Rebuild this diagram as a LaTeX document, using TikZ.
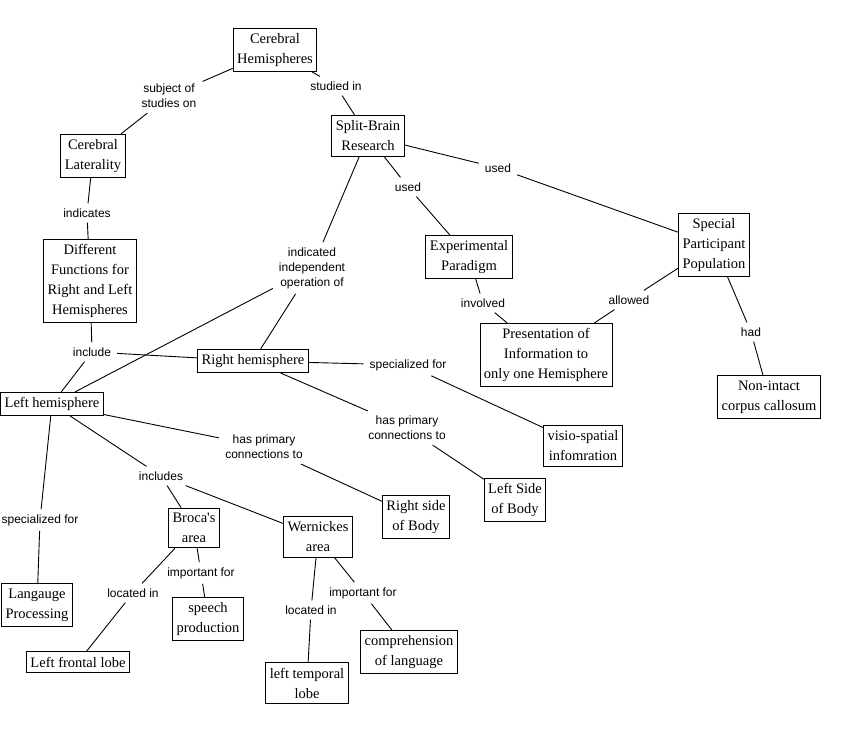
\documentclass[tikz,border=0pt]{standalone}
\usepackage{fontspec}
\setmainfont{Liberation Serif}
\newfontfamily\linkfont{Liberation Sans}

\begin{document}
\begin{tikzpicture}[x=1pt,y=-1pt,
  concept/.style={draw,line width=0.9pt,align=center,inner xsep=4pt,inner ysep=5pt,
    font=\fontsize{14.5}{20}\selectfont},
  link/.style={align=center,inner xsep=6pt,inner ysep=5pt,
    font=\linkfont\fontsize{12}{15}\selectfont},
  every edge/.style={draw,line width=0.9pt}]

\useasboundingbox (0,0) rectangle (863,744);

\node[concept] (c_hem) at (275,50) {Cerebral\\Hemispheres};
\node[concept] (c_lat) at (93,156) {Cerebral\\Laterality};
\node[concept] (c_split) at (368,136) {Split-Brain\\Research};
\node[concept] (c_diff) at (90,281) {Different\\Functions for\\Right and Left\\Hemispheres};
\node[concept] (c_exp) at (469,257) {Experimental\\Paradigm};
\node[concept] (c_spec) at (714,245) {Special\\Participant\\Population};
\node[concept] (c_pres) at (546,355) {Presentation of\\Information to\\only one Hemisphere};
\node[concept] (c_corp) at (769,397) {Non-intact\\corpus callosum};
\node[concept] (c_right) at (253,361) {Right hemisphere};
\node[concept] (c_left) at (52,404) {Left hemisphere};
\node[concept] (c_visio) at (583,446) {visio-spatial\\infomration};
\node[concept] (c_lbody) at (515,500) {Left Side\\of Body};
\node[concept] (c_rbody) at (416,517) {Right side\\of Body};
\node[concept] (c_broca) at (194,528) {Broca\textquotesingle s\\area};
\node[concept] (c_wern) at (318,537) {Wernickes\\area};
\node[concept] (c_lang) at (37,605) {Langauge\\Processing};
\node[concept] (c_front) at (78,662) {Left frontal lobe};
\node[concept] (c_speech) at (208,619) {speech\\production};
\node[concept] (c_temp) at (307,683) {left temporal\\lobe};
\node[concept] (c_compr) at (409,652) {comprehension\\of language};

\node[link] (l_subj) at (169,96) {subject of\\studies on};
\node[link] (l_stud) at (336,86) {studied in};
\node[link] (l_ind) at (87,213) {indicates};
\node[link] (l_incl) at (92,352) {include};
\node[link] (l_indep) at (312,268) {indicated\\independent\\operation of};
\node[link] (l_used_1) at (408,187) {used};
\node[link] (l_used_2) at (498,168) {used};
\node[link] (l_inv) at (483,303) {involved};
\node[link] (l_allow) at (629,300) {allowed};
\node[link] (l_had) at (751,332) {had};
\node[link] (l_spec_r) at (408,365) {specialized for};
\node[link] (l_conn_r) at (407,428) {has primary\\connections to};
\node[link] (l_conn_l) at (264,447) {has primary\\connections to};
\node[link] (l_incs) at (161,476) {includes};
\node[link] (l_spec_l) at (40,520) {specialized for};
\node[link] (l_loc_1) at (133,593) {located in};
\node[link] (l_imp_1) at (201,573) {important for};
\node[link] (l_loc_2) at (311,610) {located in};
\node[link] (l_imp_2) at (363,593) {important for};

\path (c_hem) edge (l_subj)  (l_subj) edge (c_lat)
  (c_hem) edge (l_stud)      (l_stud) edge (c_split)
  (c_lat) edge (l_ind)       (l_ind) edge (c_diff)
  (c_diff) edge (l_incl)     (l_incl) edge (c_left)
  (l_incl) edge (c_right)
  (c_split) edge (l_indep)   (l_indep) edge (c_left)
  (l_indep) edge (c_right)
  (c_split) edge (l_used_1)  (l_used_1) edge (c_exp)
  (c_split) edge (l_used_2)  (l_used_2) edge (c_spec)
  (c_exp) edge (l_inv)       (l_inv) edge (c_pres)
  (c_spec) edge (l_allow)    (l_allow) edge (c_pres)
  (c_spec) edge (l_had)      (l_had) edge (c_corp)
  (c_right) edge (l_spec_r)  (l_spec_r) edge (c_visio)
  (c_right) edge (l_conn_r)  (l_conn_r) edge (c_lbody)
  (c_left) edge (l_conn_l)   (l_conn_l) edge (c_rbody)
  (c_left) edge (l_incs)     (l_incs) edge (c_broca)
  (l_incs) edge (c_wern)
  (c_left) edge (l_spec_l)   (l_spec_l) edge (c_lang)
  (c_broca) edge (l_loc_1)   (l_loc_1) edge (c_front)
  (c_broca) edge (l_imp_1)   (l_imp_1) edge (c_speech)
  (c_wern) edge (l_loc_2)    (l_loc_2) edge (c_temp)
  (c_wern) edge (l_imp_2)    (l_imp_2) edge (c_compr);

\end{tikzpicture}
\end{document}
